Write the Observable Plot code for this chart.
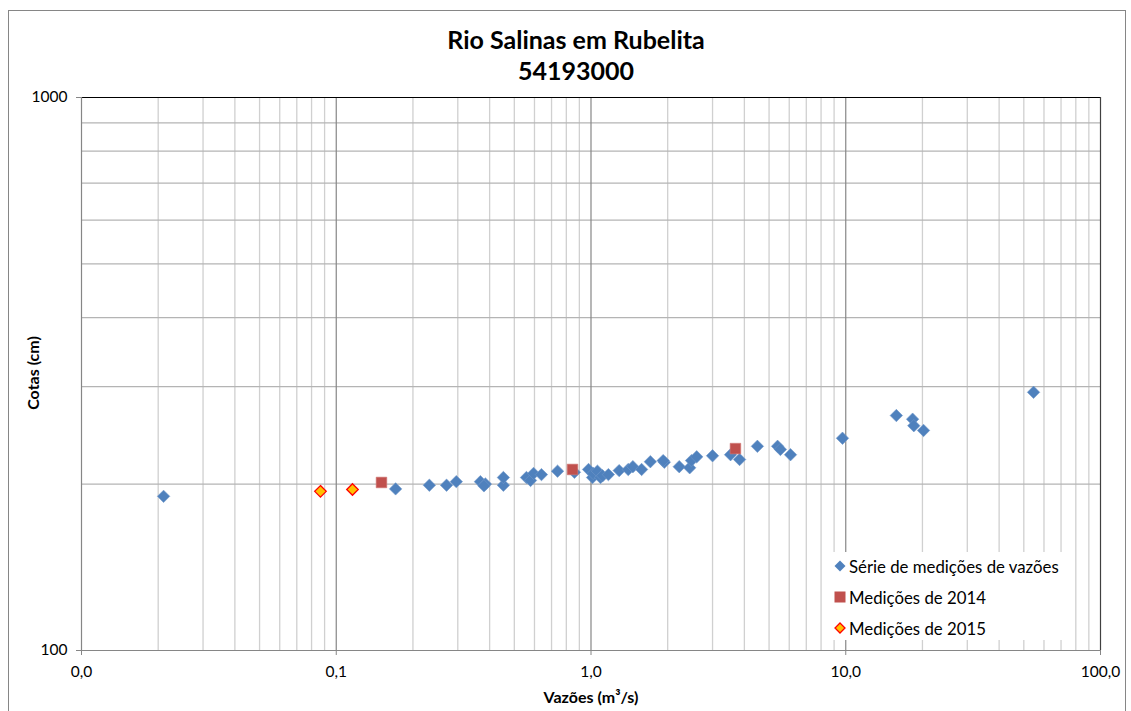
<!DOCTYPE html>
<html>
<head>
<meta charset="utf-8">
<script src="https://cdn.jsdelivr.net/npm/d3@7"></script>
<script src="https://cdn.jsdelivr.net/npm/@observablehq/plot@0.6"></script>
<style>
  html, body { margin: 0; padding: 0; background: #fff; }
  #wrap { position: relative; width: 1131px; height: 711px; overflow: hidden; font-family: Lato, "Open Sans", sans-serif; }
  #frame { position: absolute; left: 8px; top: 10px; width: 1118px; height: 720px; border: 1px solid #868686; box-sizing: border-box; }
  .title { position: absolute; left: 576px; transform: translateX(-50%); font-weight: bold; font-size: 25px; white-space: nowrap; color: #000; line-height: 1; }
  .axtitle { position: absolute; font-weight: bold; font-size: 16px; white-space: nowrap; color: #000; line-height: 1; }
  #legend { position: absolute; left: 830px; top: 552px; width: 234px; height: 88px; background: #fff; }
  .lrow { position: absolute; left: 3px; height: 20px; display: flex; align-items: center; font-size: 16.8px; white-space: nowrap; }
  .lrow svg { margin-right: 2px; }
  #chart { position: absolute; left: 0; top: 0; }
</style>
</head>
<body>
<div id="wrap">
  <div id="frame"></div>
  <div id="chart"></div>
  <div class="title" style="top:27px">Rio Salinas em Rubelita</div>
  <div class="title" style="top:58px">54193000</div>
  <div class="axtitle" style="left:33px; top:373px; transform: translate(-50%,-50%) rotate(-90deg);">Cotas (cm)</div>
  <div class="axtitle" style="left:591px; top:697px; transform: translate(-50%,-50%);">Vazões (m³/s)</div>
  <div id="legend"></div>
</div>
<script>
// ---- data ----
const serieQ = [0.021,0.171,0.232,0.271,0.296,0.368,0.385,0.380,0.453,0.453,0.558,0.579,0.595,0.639,0.739,0.861,0.978,1.014,1.02,1.06,1.09,1.11,1.17,1.29,1.40,1.46,1.58,1.71,1.94,1.92,2.22,2.44,2.48,2.60,3.00,3.53,3.83,4.50,5.40,5.54,6.07,9.71,15.8,18.3,18.5,20.2,54.6];
const serieH = [190,196,199,199,202,202,200,198.5,199,205.5,205.5,203,209,208,211,210,212.5,205.5,209,211,205.5,207,208,211.5,212.5,215,212.5,219.5,219,220.5,215,214,220.5,224,225,226,221.5,234,234,231,226,242,266,262,255,250,293];
const q2014 = [0.1505, 0.846, 3.69];
const h2014 = [201.3, 212.5, 231.8];
const q2015 = [0.0867, 0.1158];
const h2015 = [194, 195.5];

const seriesNames = ["Série de medições de vazões", "Medições de 2014", "Medições de 2015"];

const xMajor = [0.01, 0.1, 1, 10, 100];
const xMinor = [0.02,0.03,0.04,0.05,0.06,0.07,0.08,0.09,0.2,0.3,0.4,0.5,0.6,0.7,0.8,0.9,2,3,4,5,6,7,8,9,20,30,40,50,60,70,80,90];
const yMajor = [100, 1000];
const yGrid = [200,300,400,500,600,700,800,900];

const blue = "#4F81BD", red = "#C0504D", orange = "#FFC000", orangeStroke = "#FF0000";

const serie = serieQ.map((q,i) => ({q, h: serieH[i]}));
const m2014 = q2014.map((q,i) => ({q, h: h2014[i]}));
const m2015 = q2015.map((q,i) => ({q, h: h2015[i]}));

const fmtX = d => d3.format(".1f")(d).replace(".", ",");

const chart = Plot.plot({
  width: 1131, height: 711,
  marginLeft: 81, marginRight: 31, marginTop: 97, marginBottom: 61,
  style: { fontFamily: "Lato, 'Open Sans', sans-serif", fontSize: "15px", color: "#000", background: "transparent", overflow: "visible" },
  x: { type: "log", domain: [0.01, 100] },
  y: { type: "log", domain: [100, 1000] },
  marks: [
    Plot.ruleX(xMinor, { stroke: "#d0d0d0", strokeWidth: 1.3 }),
    Plot.ruleY(yGrid, { stroke: "#b4b4b4", strokeWidth: 1.2 }),
    Plot.ruleX(xMajor.slice(1, 4), { stroke: "#868686", strokeWidth: 1.2 }),
    Plot.ruleY([1000], { stroke: "#000", strokeWidth: 1.2 }),
    Plot.ruleX([100], { stroke: "#404040", strokeWidth: 1.2 }),
    Plot.ruleY([100], { stroke: "#868686", strokeWidth: 1.2 }),
    Plot.ruleX([0.01], { stroke: "#868686", strokeWidth: 1.2 }),
    Plot.axisX({ ticks: xMajor, tickFormat: fmtX, tickSize: 5, tickPadding: 10, stroke: "#868686", fontSize: 15.5, label: null }),
    Plot.axisY({ ticks: yMajor, tickFormat: d => String(d), tickSize: 5, tickPadding: 9, stroke: "#868686", fontSize: 15.5, label: null }),
    Plot.dot(serie, { x: "q", y: "h", symbol: "diamond2", r: 5.6, fill: blue, stroke: "#6f97c9", strokeWidth: 0.6 }),
    Plot.dot(m2014, { x: "q", y: "h", symbol: "square", r: 6.0, fill: red, stroke: "#d27a78", strokeWidth: 0.6 }),
    Plot.dot(m2015, { x: "q", y: "h", symbol: "diamond2", r: 5.2, fill: orange, stroke: orangeStroke, strokeWidth: 1.3 })
  ]
});
document.getElementById("chart").appendChild(chart);

// legend
const legend = document.getElementById("legend");
const sym = [
  `<svg width="14" height="14"><path d="M7,1.5L12.5,7L7,12.5L1.5,7Z" fill="${blue}"/></svg>`,
  `<svg width="14" height="14"><rect x="1.5" y="1.5" width="11" height="11" fill="${red}"/></svg>`,
  `<svg width="14" height="14"><path d="M7,2L12,7L7,12L2,7Z" fill="${orange}" stroke="${orangeStroke}" stroke-width="1.3"/></svg>`
];
const rowTops = [4, 35, 66];
seriesNames.forEach((name, i) => {
  const row = document.createElement("div");
  row.className = "lrow";
  row.style.top = rowTops[i] + "px";
  row.innerHTML = sym[i] + `<span>${name}</span>`;
  legend.appendChild(row);
});
</script>
</body>
</html>
